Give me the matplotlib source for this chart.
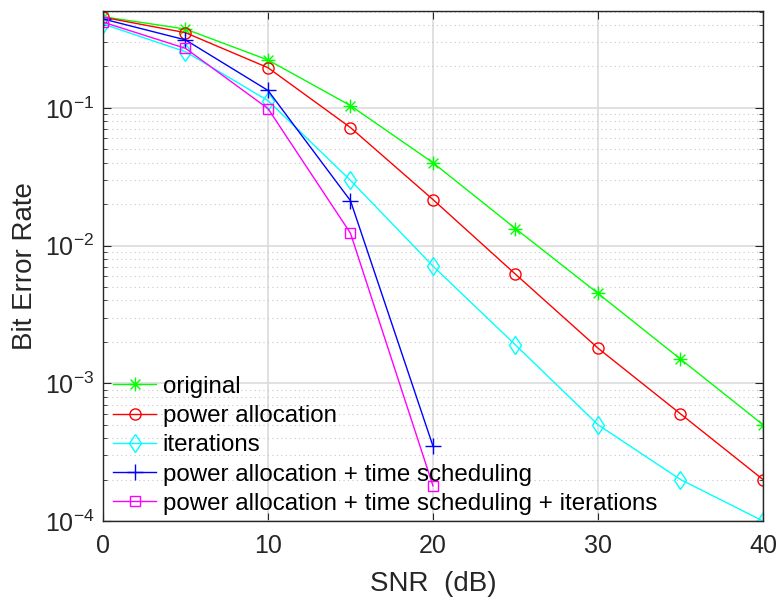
import matplotlib
matplotlib.use("Agg")
import matplotlib.pyplot as plt
from matplotlib.path import Path
from matplotlib.ticker import LogLocator, NullFormatter, FixedLocator

plt.rcParams['font.family'] = ['Liberation Sans', 'DejaVu Sans']

snr = [0, 5, 10, 15, 20, 25, 30, 35, 40]
snr_short = [0, 5, 10, 15, 20]

ber_original = [0.46, 0.374, 0.223, 0.104, 0.040, 0.0133, 0.0045, 0.0015, 0.0005]
ber_power = [0.456, 0.352, 0.196, 0.072, 0.0216, 0.0062, 0.0018, 0.0006, 0.0002]
ber_iter = [0.407, 0.256, 0.113, 0.0298, 0.0071, 0.0019, 0.0005, 0.0002, 0.0001]
ber_power_ts = [0.443, 0.312, 0.134, 0.0212, 0.00035]
ber_power_ts_iter = [0.42, 0.271, 0.099, 0.0123, 0.00018]

labels = ["original", "power allocation", "iterations",
          "power allocation + time scheduling",
          "power allocation + time scheduling + iterations"]

# MATLAB-like asterisk marker (+ combined with x)
d = 0.7071
ast_verts = [(-1, 0), (1, 0), (0, -1), (0, 1), (-d, -d), (d, d), (-d, d), (d, -d)]
ast_codes = [Path.MOVETO, Path.LINETO] * 4
asterisk = Path(ast_verts, ast_codes)

fig = plt.figure(figsize=(7.76, 6.0), dpi=100)
ax = fig.add_axes([0.1327, 0.1317, 0.9832 - 0.1327, 0.9817 - 0.1317])

ax.semilogy(snr, ber_original, color='#00ff00', marker=asterisk, ms=10, mew=1, lw=1, label=labels[0])
ax.semilogy(snr, ber_power, color='#ff0000', marker='o', ms=8, mfc='none', mew=1, lw=1, label=labels[1])
ax.semilogy(snr, ber_iter, color='#00ffff', marker='d', ms=9.5, mfc='none', mew=1, lw=1, label=labels[2])
ax.semilogy(snr_short, ber_power_ts, color='#0000ff', marker='+', ms=11, mew=1, lw=1, label=labels[3])
ax.semilogy(snr_short, ber_power_ts_iter, color='#ff00ff', marker='s', ms=6.5, mfc='none', mew=1, lw=1, label=labels[4])

ax.set_xlim(0, 40)
ax.set_ylim(1e-4, 0.506)
ax.xaxis.set_major_locator(FixedLocator([0, 10, 20, 30, 40]))
ax.yaxis.set_major_locator(LogLocator(base=10, numticks=10))
ax.yaxis.set_minor_locator(LogLocator(base=10, subs=range(2, 10), numticks=20))
ax.yaxis.set_minor_formatter(NullFormatter())

ax.grid(True, which='major', color='#dcdcdc', lw=1.2, ls='-')
ax.grid(True, which='minor', axis='y', color='#c8c8c8', lw=0.8, ls=(0, (1, 3)))
ax.set_axisbelow(True)

ax.tick_params(which='both', direction='in', top=True, right=True, labelsize=18, color='#262626',
               labelcolor='#262626')
ax.tick_params(which='major', length=6)
ax.tick_params(which='minor', length=3)
ax.tick_params(axis='x', pad=9.5)
ax.tick_params(axis='y', pad=6)
for s in ax.spines.values():
    s.set_color('#262626')
    s.set_linewidth(1)

ax.set_xlabel('SNR  (dB)', fontsize=20, color='#262626', labelpad=9)
ax.set_ylabel('Bit Error Rate', fontsize=20, color='#262626', labelpad=5)

leg = ax.legend(loc='lower left', bbox_to_anchor=(0.006, 0.0), frameon=False, fontsize=17.4,
                handlelength=1.8, handletextpad=0.25, labelspacing=0.3, borderaxespad=0.05,
                borderpad=0.2)

fig.savefig('out.png', dpi=100)
